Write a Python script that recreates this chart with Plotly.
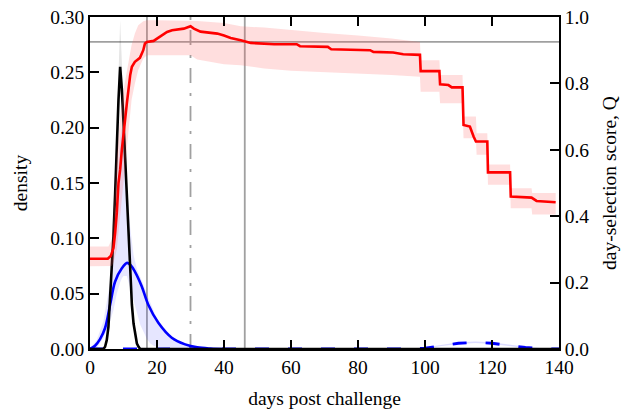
import plotly.graph_objects as go

# ---- data ----
# day-selection score Q (right axis), mean line
q_x = [0, 5.3, 6.2, 7, 7.5, 8, 8.5, 9, 9.5, 10, 11, 12, 12.5, 13.4, 14.9, 15.9, 16.4, 17, 19, 20,
       21.5, 23, 24.5, 27, 28, 30, 31, 33, 36, 38, 40, 42, 45, 48, 55, 61.7, 62.7, 71, 72, 83.6,
       84.6, 90.5, 93.5, 98.5, 98.7, 104.3, 104.5, 107, 108, 111.2, 111.5, 113.4, 114.5, 115.2,
       118.6, 118.8, 125.4, 125.6, 131.8, 133.3, 139]
q_y = [0.272, 0.272, 0.28, 0.304, 0.35, 0.41, 0.50, 0.54, 0.60, 0.65, 0.74, 0.825, 0.85, 0.865,
       0.877, 0.90, 0.92, 0.925, 0.928, 0.935, 0.945, 0.955, 0.96, 0.962, 0.965, 0.972, 0.965,
       0.956, 0.953, 0.95, 0.944, 0.937, 0.93, 0.922, 0.918, 0.918, 0.912, 0.91, 0.903, 0.90,
       0.895, 0.893, 0.888, 0.886, 0.837, 0.837, 0.797, 0.795, 0.788, 0.788, 0.675, 0.67, 0.64,
       0.625, 0.625, 0.532, 0.532, 0.459, 0.456, 0.446, 0.442]
# Q uncertainty band
qb_x = [0, 5.5, 6.5, 7, 8, 9, 10, 11, 12, 12.4, 13.4, 14.4, 15.9, 17, 20, 30, 32, 40, 45, 52,
        60, 70, 80, 90, 98.5, 98.7, 104.3, 104.5, 111.2, 111.5, 115.2, 115.4, 118.6, 118.8,
        125.4, 125.6, 131.8, 132, 139]
qb_hi = [0.309, 0.309, 0.33, 0.40, 0.58, 0.70, 0.78, 0.84, 0.89, 0.915, 0.95, 0.975, 0.987,
         0.99, 0.99, 0.99, 0.988, 0.982, 0.972, 0.968, 0.96, 0.952, 0.944, 0.935, 0.925, 0.87,
         0.87, 0.825, 0.825, 0.70, 0.70, 0.65, 0.65, 0.556, 0.556, 0.484, 0.484, 0.47, 0.47]
qb_lo = [0.249, 0.249, 0.25, 0.26, 0.30, 0.40, 0.50, 0.60, 0.70, 0.75, 0.80, 0.84, 0.875,
         0.885, 0.885, 0.885, 0.872, 0.858, 0.855, 0.845, 0.838, 0.834, 0.83, 0.825, 0.82,
         0.775, 0.775, 0.74, 0.74, 0.635, 0.635, 0.585, 0.585, 0.495, 0.495, 0.424, 0.424,
         0.405, 0.405]

# black density (narrow peak)
k_x = [0, 4, 4.5, 5, 5.5, 6, 6.5, 7, 7.5, 8, 8.5, 9, 9.5, 10, 10.5, 11, 11.5, 12, 12.5, 13,
       13.5, 14, 14.5, 15, 140]
k_y = [0, 0, 0.002, 0.008, 0.02, 0.045, 0.075, 0.102, 0.14, 0.185, 0.225, 0.255, 0.235, 0.205,
       0.17, 0.135, 0.095, 0.065, 0.04, 0.023, 0.012, 0.005, 0.002, 0, 0]
k_hi = [0, 0, 0.003, 0.01, 0.024, 0.05, 0.08, 0.11, 0.15, 0.2, 0.25, 0.297, 0.26, 0.215,
        0.178, 0.14, 0.1, 0.068, 0.042, 0.025, 0.013, 0.006, 0.002, 0, 0]
k_lo = [0, 0, 0.001, 0.006, 0.016, 0.04, 0.07, 0.095, 0.13, 0.172, 0.21, 0.235, 0.22, 0.195,
        0.162, 0.13, 0.09, 0.062, 0.038, 0.021, 0.011, 0.004, 0.001, 0, 0]

# blue density (solid, early)
b_x = [0, 1.5, 3, 4.5, 6, 7.5, 9.5, 11.1, 12.2, 13.4, 15.4, 17.4, 20.4, 24.4, 28.4, 32, 36, 40]
b_y = [0.0, 0.003, 0.009, 0.019, 0.040, 0.061, 0.073, 0.0778, 0.0755, 0.070, 0.057, 0.040,
       0.0237, 0.0102, 0.0042, 0.0015, 0.0004, 0.0]
bb_x = [0, 2, 4, 6, 7, 8, 9, 9.5, 10, 11, 12, 13, 14, 15, 16, 17, 18, 19, 20, 24, 28, 32, 36]
bb_hi = [0.001, 0.008, 0.025, 0.06, 0.10, 0.15, 0.19, 0.20, 0.19, 0.15, 0.11, 0.085, 0.072,
         0.065, 0.058, 0.05, 0.042, 0.034, 0.027, 0.012, 0.005, 0.002, 0.0]
bb_lo = [0.0, 0.001, 0.01, 0.025, 0.035, 0.05, 0.06, 0.064, 0.066, 0.066, 0.055, 0.045, 0.033,
         0.022, 0.015, 0.009, 0.005, 0.003, 0.002, 0.0, 0.0, 0.0, 0.0]

# blue density (dashed, late hump)
d_x = [0, 90, 95, 100, 105, 110, 115, 120, 125, 130, 135, 140]
d_y = [0, 0, 0.0002, 0.0008, 0.0032, 0.0052, 0.006, 0.0052, 0.0032, 0.0014, 0.0004, 0.0]
d_hi = [0, 0, 0.0004, 0.0014, 0.0040, 0.0060, 0.0068, 0.0060, 0.0040, 0.0020, 0.0007, 0.0]
d_lo = [0, 0, 0.0001, 0.0005, 0.0026, 0.0046, 0.0054, 0.0046, 0.0026, 0.0010, 0.0002, 0.0]

# reference lines
v_solid = [17, 46.2]
v_dashdot = 30
h_q = 0.925

x_ticks = [0, 20, 40, 60, 80, 100, 120, 140]
y_ticks = [0, 0.05, 0.10, 0.15, 0.20, 0.25, 0.30]
y2_ticks = [0, 0.2, 0.4, 0.6, 0.8, 1.0]

FONT = "'Liberation Serif', 'Times New Roman', Tinos, 'DejaVu Serif', serif"
FS = 19.5

fig = go.Figure()


def band(x, lo, hi, color, yaxis="y"):
    fig.add_trace(go.Scatter(x=x, y=hi, mode="lines", line=dict(width=0), hoverinfo="skip",
                             showlegend=False, yaxis=yaxis))
    fig.add_trace(go.Scatter(x=x, y=lo, mode="lines", line=dict(width=0), fill="tonexty",
                             fillcolor=color, hoverinfo="skip", showlegend=False, yaxis=yaxis))


band(bb_x, bb_lo, bb_hi, "rgba(60,60,255,0.13)")
band(k_x, k_lo, k_hi, "rgba(0,0,0,0.10)")
band(d_x, d_lo, d_hi, "rgba(60,60,255,0.18)")
fig.add_trace(go.Scatter(x=d_x, y=d_y, mode="lines", line=dict(color="#0000ff", width=2.8,
                         dash="14px,19px"), showlegend=False))
fig.add_trace(go.Scatter(x=b_x, y=b_y, mode="lines", line=dict(color="#0000ff", width=2.6,
                         shape="spline"), showlegend=False))
fig.add_trace(go.Scatter(x=k_x, y=k_y, mode="lines", line=dict(color="#000000", width=2.6),
                         showlegend=False))

band(qb_x, qb_lo, qb_hi, "rgba(255,90,90,0.2)", yaxis="y2")
fig.add_trace(go.Scatter(x=q_x, y=q_y, mode="lines", line=dict(color="#ff0000", width=2.6),
                         showlegend=False, yaxis="y2"))

shapes = []
for v in v_solid:
    shapes.append(dict(type="line", xref="x", yref="paper", x0=v, x1=v, y0=0, y1=1,
                       line=dict(color="#a0a0a0", width=1.8), layer="below"))
shapes.append(dict(type="line", xref="x", yref="paper", x0=v_dashdot, x1=v_dashdot, y0=0, y1=1,
                   line=dict(color="#a0a0a0", width=1.8, dash="15px,10px,3px,10px"),
                   layer="below"))
shapes.append(dict(type="line", xref="paper", yref="y2", x0=0, x1=1, y0=h_q, y1=h_q,
                   line=dict(color="#a0a0a0", width=1.8), layer="below"))

axis_common = dict(showgrid=False, zeroline=False, showline=True, linecolor="black",
                   linewidth=1.5, ticks="inside", ticklen=9, tickwidth=1.5, tickcolor="black",
                   tickfont=dict(family=FONT, size=FS, color="black"), automargin=False,
                   ticklabeloverflow="allow")

fig.update_layout(
    width=630, height=411,
    margin=dict(l=82, r=79, t=9, b=70),
    plot_bgcolor="white", paper_bgcolor="white",
    font=dict(family=FONT, size=FS, color="black"),
    shapes=shapes,
    xaxis=dict(range=[0, 140], tickvals=x_ticks, mirror="ticks",
               title=dict(text="days post challenge", font=dict(family=FONT, size=FS),
                          standoff=14),
               **axis_common),
    yaxis=dict(range=[0, 0.30], tickvals=y_ticks, tickformat=".2f",
               title=dict(text="density", font=dict(family=FONT, size=FS), standoff=17),
               **axis_common),
    yaxis2=dict(range=[0, 1.0], tickvals=y2_ticks, tickformat=".1f", overlaying="y",
                side="right",
                title=dict(text="day-selection score, Q", font=dict(family=FONT, size=FS),
                           standoff=14),
                **axis_common),
)

fig.write_html("out.html")
